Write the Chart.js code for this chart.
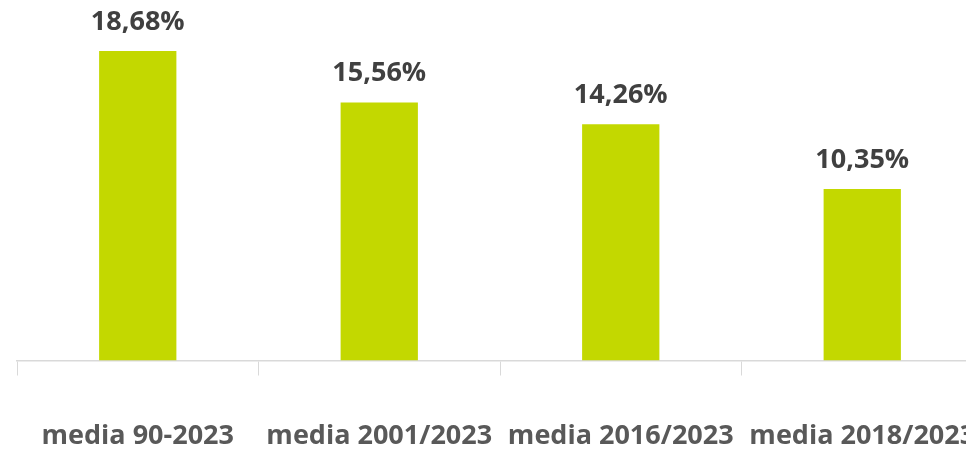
<!DOCTYPE html>
<html lang="it">
<head>
  <meta charset="UTF-8">
  <title>Medie</title>
  <script src="https://cdn.jsdelivr.net/npm/chart.js"></script>
  <style>
    html, body { margin: 0; padding: 0; background: #fff; overflow: hidden; }
    #wrap { width: 1000px; height: 468px; }
  </style>
</head>
<body>
  <div id="wrap"><canvas id="chart" width="1000" height="468"></canvas></div>
  <script>
    const categories = ['media 90-2023', 'media 2001/2023', 'media 2016/2023', 'media 2018/2023'];
    const values = [18.68, 15.56, 14.26, 10.35];

    // etichette sopra le barre, formato italiano
    const valueLabels = {
      id: 'valueLabels',
      afterDatasetsDraw(chart) {
        const ctx = chart.ctx;
        const meta = chart.getDatasetMeta(0);
        ctx.save();
        ctx.font = 'bold 27px "Open Sans"';
        ctx.fillStyle = '#404040';
        ctx.textAlign = 'center';
        ctx.textBaseline = 'middle';
        meta.data.forEach((bar, i) => {
          const txt = values[i].toFixed(2).replace('.', ',') + '%';
          ctx.fillText(txt, bar.x, bar.y - 29);
        });
        ctx.restore();
      }
    };

    new Chart(document.getElementById('chart'), {
      type: 'bar',
      data: {
        labels: categories,
        datasets: [{ data: values, backgroundColor: '#c3d800', categoryPercentage: 1, barPercentage: 0.32 }]
      },
      options: {
        responsive: false,
        animation: false,
        layout: { padding: { left: 17, right: 17, top: 29, bottom: 12 } },
        plugins: { legend: { display: false }, tooltip: { enabled: false } },
        scales: {
          y: { display: false, min: 0, max: 20 },
          x: {
            border: { color: '#d9d9d9', width: 1.5 },
            // tacche lunghe per spingere giù le etichette, visibili solo per 14px
            grid: { drawOnChartArea: false, offset: true, color: '#d9d9d9', tickLength: 57, tickBorderDash: [14, 200] },
            ticks: { color: '#595959', padding: 3, maxRotation: 0, minRotation: 0, autoSkip: false,
                     font: { family: 'Open Sans', size: 27, weight: 'bold' } }
          }
        }
      },
      plugins: [valueLabels]
    });
  </script>
</body>
</html>
